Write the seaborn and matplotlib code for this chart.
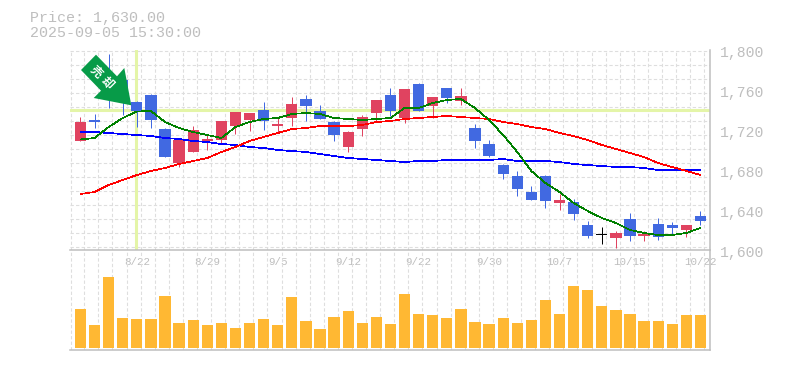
import numpy as np
import pandas as pd
import seaborn as sns
import matplotlib.pyplot as plt
from matplotlib.patches import Polygon

# candles, oldest first
opens = [1712, 1733, 1778, 1773, 1751, 1758, 1724, 1690, 1701, 1712, 1713, 1727, 1733, 1743, 1727,
         1735, 1754, 1742, 1731, 1706, 1724, 1740, 1758, 1735, 1769, 1747, 1765, 1752, 1725, 1709,
         1688, 1677, 1661, 1677, 1650, 1651, 1628, 1618, 1615, 1634, 1617, 1629, 1628, 1623, 1637]
closes = [1731, 1731, 1765, 1753, 1742, 1733, 1696, 1713, 1723, 1714, 1732, 1741, 1740, 1732, 1729,
          1749, 1747, 1734, 1718, 1721, 1736, 1753, 1742, 1764, 1742, 1756, 1755, 1757, 1712, 1697,
          1679, 1664, 1653, 1652, 1653, 1639, 1617, 1618, 1620, 1617, 1619, 1616, 1625, 1628, 1632]
highs = [1736, 1739, 1799, 1778, 1752, 1759, 1725, 1713, 1727, 1719, 1732, 1741, 1740, 1751, 1736,
         1756, 1758, 1748, 1732, 1722, 1738, 1753, 1765, 1764, 1770, 1756, 1765, 1765, 1729, 1713,
         1689, 1682, 1667, 1678, 1659, 1654, 1632, 1626, 1622, 1640, 1622, 1635, 1631, 1628, 1642]
lows = [1712, 1725, 1745, 1738, 1726, 1725, 1696, 1686, 1701, 1703, 1710, 1719, 1722, 1723, 1721,
        1727, 1732, 1734, 1712, 1701, 1717, 1732, 1737, 1730, 1742, 1735, 1750, 1748, 1705, 1696,
        1674, 1657, 1653, 1645, 1643, 1633, 1615, 1609, 1605, 1612, 1612, 1613, 1618, 1616, 1628]

ma_short = [1713.5, 1715, 1726, 1735, 1741.5, 1742, 1731, 1725, 1721, 1718, 1715, 1726, 1731, 1734, 1735,
            1739, 1740, 1739, 1735, 1734, 1733, 1734, 1735, 1745, 1745, 1750, 1753, 1754, 1745, 1733,
            1718, 1701, 1682, 1670, 1661, 1650, 1642, 1635, 1630, 1623, 1620, 1618, 1618, 1620, 1625]
ma_mid = [1659, 1661, 1668, 1673, 1678, 1682, 1685, 1689, 1692, 1695, 1701, 1706, 1712, 1716, 1720,
          1724, 1725, 1727, 1727, 1727, 1728, 1731, 1732, 1734, 1735, 1736, 1737, 1736, 1735, 1734,
          1731, 1729, 1726, 1724, 1720, 1717, 1713, 1708, 1704, 1700, 1696, 1690, 1686, 1682, 1678]
ma_long = [1721, 1721, 1720, 1719, 1718, 1717, 1715, 1714, 1712, 1711, 1709, 1708, 1706, 1705, 1703,
           1702, 1701, 1699, 1697, 1695, 1694, 1693, 1692, 1691, 1692, 1692, 1693, 1693, 1693, 1693,
           1694, 1692, 1692, 1692, 1691, 1689, 1688, 1687, 1686, 1686, 1685, 1683, 1683, 1683, 1683]

volume = [39, 23, 71, 30, 29, 29, 52, 25, 28, 23, 25, 20, 25, 29, 23,
          51, 27, 19, 31, 37, 25, 31, 24, 54, 34, 33, 30, 39, 26, 24,
          30, 25, 28, 48, 34, 62, 58, 42, 38, 34, 27, 27, 24, 33, 33]

date_pos = [4, 9, 14, 19, 24, 29, 34, 39, 44]
date_labels = ['8/22', '8/29', '9/5', '9/12', '9/22', '9/30', '10/7', '10/15', '10/22']
price_ticks = [1600, 1640, 1680, 1720, 1760, 1800]

RED = '#E04360'
BLUE = '#4169E1'
GREY = '#BEBEBE'
GRID = '#DEDEDE'
CROSS = '#E4F5A8'
MONO = 'Liberation Mono'

sns.set_style('white')

df = pd.DataFrame({'open': opens, 'close': closes, 'high': highs, 'low': lows,
                   'short': ma_short, 'mid': ma_mid, 'long': ma_long, 'volume': volume})
df['i'] = df.index
df['color'] = BLUE
df.loc[df.close > df.open, 'color'] = RED
df.loc[df.close == df.open, 'color'] = 'black'

W, H = 785, 370
fig = plt.figure(figsize=(W / 100, H / 100), dpi=100)
ax = fig.add_axes([70 / W, 1 - 250 / H, 640 / W, 200 / H])
ax_vol = fig.add_axes([70 / W, 1 - 350 / H, 640 / W, 100 / H])
ax_vol.patch.set_alpha(0)

xlim = (-0.745, 44.68)
grid_x = [-0.70] + [i + 0.27 for i in range(45)]
grid_y = list(range(1606, 1803, 14))

# ----- price panel -----
ax.set_axisbelow(True)
ax.axvline(3.96, color=CROSS, lw=2.2, zorder=1.5)
ax.axhline(1743, color=CROSS, lw=2.2, zorder=1.5)

ax.vlines(df.i, df.low, df.high, colors=df.color, lw=0.72, zorder=2)
height = (df.close - df.open).abs().clip(lower=1)
ax.bar(df.i, height, bottom=df[['open', 'close']].min(axis=1), width=0.8, color=df.color,
       linewidth=0, antialiased=False, zorder=2.1)

for col, c in [('long', 'blue'), ('mid', 'red'), ('short', 'green')]:
    sns.lineplot(data=df, x='i', y=col, color=c, lw=0.5, ax=ax, zorder=3, antialiased=False)

ax.set_xlabel('')
ax.set_ylabel('')
ax.set_xticks(date_pos)
ax.set_xticklabels(date_labels, family=MONO, fontsize=7.8, color=GREY)
ax.set_xticks(grid_x, minor=True)
ax.set_yticks([])
ax.set_yticks(grid_y, minor=True)
ax.set_xlim(*xlim)
ax.set_ylim(1603, 1803)
ax.tick_params(axis='x', which='major', length=0, pad=5)
ax.tick_params(which='minor', length=0)
ax.grid(False)
ax.grid(True, which='minor', color=GRID, lw=0.8, ls=(0, (3, 2)))

# 1,600 sits below the panel edge, so the labels are plain text rather than ticks
label_tr = ax.get_yaxis_transform()
for p in price_ticks:
    ax.text(1.016, p, f'{p:,}', transform=label_tr, family=MONO, fontsize=10.6, color=GREY,
            va='center', ha='left', clip_on=False)

# ----- volume panel -----
ax_vol.set_axisbelow(True)
sns.barplot(data=df, x='i', y='volume', native_scale=True, width=0.8, color='#FFB833',
            saturation=1, ax=ax_vol, zorder=2, errorbar=None, linewidth=0, antialiased=False)
ax_vol.set_xlabel('')
ax_vol.set_ylabel('')
ax_vol.set_xticks([])
ax_vol.set_xticks(grid_x, minor=True)
ax_vol.set_yticks([])
ax_vol.set_xlim(*xlim)
ax_vol.set_ylim(-2, 98)
ax_vol.tick_params(which='minor', length=0)
ax_vol.grid(True, which='minor', axis='x', color=GRID, lw=0.8, ls=(0, (3, 2)))

for a in (ax, ax_vol):
    for s in ('top', 'left'):
        a.spines[s].set_visible(False)
    for s in ('bottom', 'right'):
        a.spines[s].set_color(GREY)
        a.spines[s].set_linewidth(1.1)

# ----- arrow badge, positioned in image pixels -----
def px(x, y):
    return (x / W, 1 - y / H)

arrow_px = [(96, 54.7), (117, 76.3), (124.3, 68), (131.3, 105.3), (93.7, 98), (101, 90.7), (81, 70)]
fig.add_artist(Polygon([px(*p) for p in arrow_px], closed=True, transform=fig.transFigure,
                       facecolor='#079B48', edgecolor='none', zorder=5))
for ch, (x, y) in zip('売却', [(96, 72), (107, 83)]):
    fig.text(*px(x, y), ch, rotation=-45, ha='center', va='center', color='white',
             fontsize=8.5, fontweight='bold', family=['Noto Sans CJK JP', 'DejaVu Sans'], zorder=6)

fig.text(*px(29.5, 18), 'Price: 1,630.00', family=MONO, fontsize=10.8, color=GREY, va='center')
fig.text(*px(29.5, 33), '2025-09-05 15:30:00', family=MONO, fontsize=10.8, color=GREY, va='center')

fig.savefig('out.png', dpi=100)
